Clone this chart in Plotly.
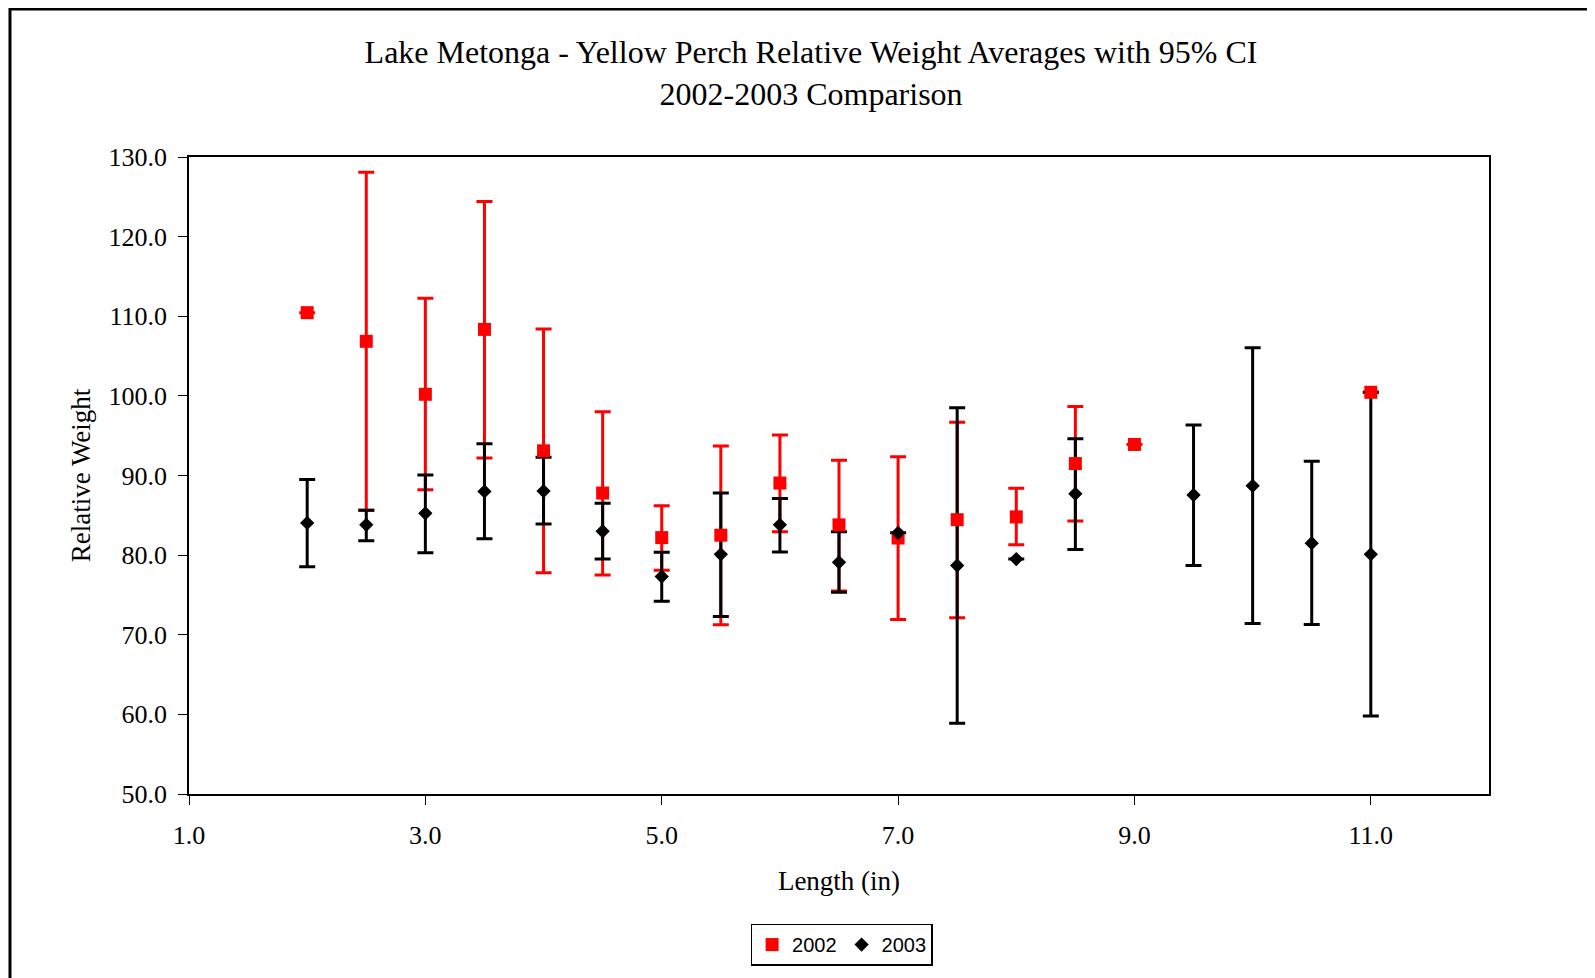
import plotly.graph_objects as go

# lengths (in) and relative weight means with 95% CI bounds
len_2002 = [2.0, 2.5, 3.0, 3.5, 4.0, 4.5, 5.0, 5.5, 6.0, 6.5, 7.0, 7.5, 8.0, 8.5, 9.0, 11.0]
wr_2002 = [110.45, 106.85, 100.2, 108.35, 93.1, 87.8, 82.2, 82.5, 89.05, 83.8, 82.15, 84.45, 84.8, 91.5, 93.9, 100.45]
hi_2002 = [110.45, 128.1, 112.25, 124.4, 108.4, 98.0, 86.2, 93.7, 95.1, 91.9, 92.35, 96.7, 88.4, 98.65, 93.9, 100.45]
lo_2002 = [110.45, 85.65, 88.2, 92.2, 77.8, 77.5, 78.1, 71.25, 82.95, 75.5, 71.9, 72.15, 81.3, 84.3, 93.9, 100.45]

len_2003 = [2.0, 2.5, 3.0, 3.5, 4.0, 4.5, 5.0, 5.5, 6.0, 6.5, 7.0, 7.5, 8.0, 8.5, 9.5, 10.0, 10.5, 11.0]
wr_2003 = [84.05, 83.8, 85.25, 88.0, 88.05, 83.0, 77.3, 80.1, 83.8, 79.1, 82.8, 78.7, 79.5, 87.7, 87.55, 88.7, 81.5, 80.1]
hi_2003 = [89.5, 85.65, 90.05, 94.0, 92.3, 86.5, 80.35, 87.8, 87.1, 82.95, 82.8, 98.5, 79.5, 94.6, 96.35, 106.05, 91.8, 100.45]
lo_2003 = [78.55, 81.8, 80.3, 82.05, 83.9, 79.5, 74.2, 72.3, 80.4, 75.35, 82.8, 58.9, 79.5, 80.7, 78.7, 71.4, 71.3, 59.8]

serif = "Liberation Serif, Times New Roman, serif"

fig = go.Figure()

# error bars first (both years), markers on top, like the original
for xs, ys, hi, lo, col in [(len_2002, wr_2002, hi_2002, lo_2002, "#ff0000"),
                            (len_2003, wr_2003, hi_2003, lo_2003, "#000000")]:
    fig.add_trace(go.Scatter(
        x=xs, y=ys, mode="markers", showlegend=False, hoverinfo="skip",
        marker=dict(size=1, opacity=0),
        error_y=dict(type="data", symmetric=False,
                     array=[h - m for h, m in zip(hi, ys)],
                     arrayminus=[m - l for m, l in zip(ys, lo)],
                     color=col, thickness=3, width=8),
    ))

fig.add_trace(go.Scatter(x=len_2002, y=wr_2002, mode="markers", name="2002",
                         marker=dict(symbol="square", size=13, color="#ff0000")))
fig.add_trace(go.Scatter(x=len_2003, y=wr_2003, mode="markers", name="2003",
                         marker=dict(symbol="diamond", size=11, color="#000000")))

# outer chart border (left and top only visible)
fig.add_shape(type="path", xref="paper", yref="paper",
              path="M -0.1377,-0.5 L -0.1377,1.2323 L 1.2,1.2323",
              line=dict(color="black", width=3))

fig.update_layout(
    width=1587, height=970,
    paper_bgcolor="white", plot_bgcolor="white",
    margin=dict(l=181, r=106, t=149, b=184),
    title=dict(text="Lake Metonga - Yellow Perch Relative Weight Averages with 95% CI<br>2002-2003 Comparison",
               x=0.4785, xref="paper", xanchor="center",
               y=1 - 55 / 970, yref="container", yanchor="middle",
               font=dict(family=serif, size=32, color="black")),
    xaxis=dict(range=[1, 12], tick0=1, dtick=2, tickformat=".1f",
               showgrid=False, zeroline=False,
               showline=True, linecolor="black", linewidth=1.5, mirror=True,
               ticks="outside", ticklen=9, tickcolor="black", ticklabelstandoff=8,
               tickfont=dict(family=serif, size=26, color="black"),
               title=dict(text="Length (in)", standoff=22,
                          font=dict(family=serif, size=27, color="black"))),
    yaxis=dict(range=[50, 130], dtick=10, tickformat=".1f",
               showgrid=False, zeroline=False,
               showline=True, linecolor="black", linewidth=1.5, mirror=True,
               ticks="outside", ticklen=9, tickcolor="black", ticklabelstandoff=6,
               tickfont=dict(family=serif, size=26, color="black"),
               title=dict(text="Relative Weight", standoff=10,
                          font=dict(family=serif, size=27, color="black"))),
    legend=dict(orientation="h", x=0.502, xanchor="center", y=-0.2034, yanchor="top",
                bordercolor="black", borderwidth=1.5, bgcolor="white",
                font=dict(family="Liberation Sans, Arial, sans-serif", size=20, color="black"),
                itemwidth=30, tracegroupgap=0),
)

fig.write_html("out.html")
